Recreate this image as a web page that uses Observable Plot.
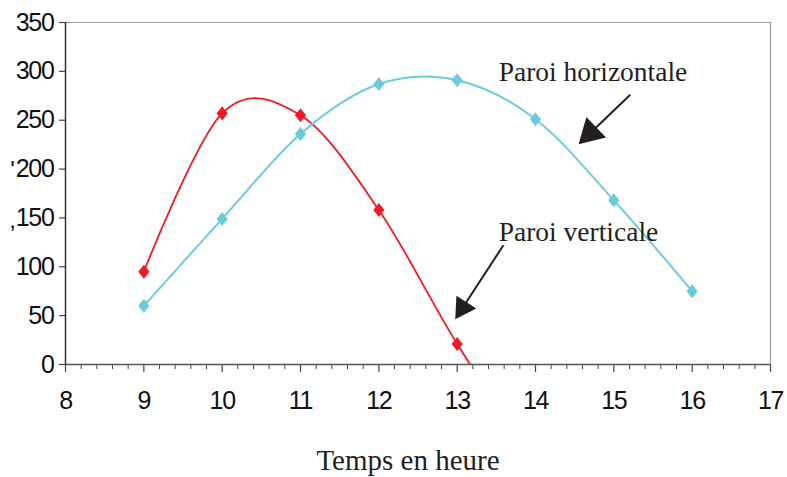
<!DOCTYPE html>
<html>
<head>
<meta charset="utf-8">
<script src="https://cdn.jsdelivr.net/npm/d3@7"></script>
<script src="https://cdn.jsdelivr.net/npm/@observablehq/plot@0.6"></script>
<style>
  body { margin: 0; background: #fff; }
  #chart svg { overflow: visible; }
</style>
</head>
<body>
<div id="chart"></div>
<script>
// Data
const hoursH = [9, 10, 11, 12, 13, 14, 15, 16];
const horizontale = [60, 149, 236, 287, 291, 251, 168, 75];
const hoursV = [9, 10, 11, 12, 13, 14];
const verticale = [95, 257, 255, 158, 21, -100];

const xTicks = [8, 9, 10, 11, 12, 13, 14, 15, 16, 17];
const yTicks = [0, 50, 100, 150, 200, 250, 300, 350];
const xMinor = d3.range(8, 17.0001, 0.2).filter(v => Math.abs(v - Math.round(v)) > 1e-6);

const labels = ["Paroi horizontale", "Paroi verticale"];
const labelX = [13.53, 13.53];
const labelY = [299.5, 135.7];

// arrows: start (x1,y1) -> head centre (x2,y2)
const arrowX1 = [15.21, 13.59];
const arrowY1 = [276, 122];
const arrowX2 = [14.70, 13.07];
const arrowY2 = [237, 58];
const arrowAngle = [226, 213];
const arrowR = [10.5, 8.8];

const xTitle = "Temps en heure";

const serH = hoursH.map((h, i) => ({x: h, y: horizontale[i]}));
const serV = hoursV.map((h, i) => ({x: h, y: verticale[i]}));
const ann = labels.map((t, i) => ({t, x: labelX[i], y: labelY[i]}));
const arr = arrowX1.map((_, i) => ({x1: arrowX1[i], y1: arrowY1[i], x2: arrowX2[i], y2: arrowY2[i], a: arrowAngle[i], r: arrowR[i]}));

const diamond = {
  draw(context, size) {
    const b = Math.sqrt(size / 1.6), a = 0.8 * b;
    context.moveTo(0, -b);
    context.lineTo(a, 0);
    context.lineTo(0, b);
    context.lineTo(-a, 0);
    context.closePath();
  }
};

const red = "#ED1C24";
const cyan = "#6CCBDB";
const ink = "#231F20";
const sans = "'Liberation Sans', Arial, sans-serif";
const serif = "'Liberation Serif', 'Times New Roman', serif";

const chart = Plot.plot({
  width: 787,
  height: 477,
  marginLeft: 65,
  marginRight: 17,
  marginTop: 22,
  marginBottom: 113,
  x: {domain: [8, 17]},
  y: {domain: [0, 350]},
  style: {fontFamily: sans, background: "#fff", color: "#000"},
  marks: [
    Plot.ruleY([350], {stroke: "#9a9a9a", strokeWidth: 1.2}),
    Plot.ruleX([17], {stroke: "#9a9a9a", strokeWidth: 1.2}),
    Plot.axisX(xMinor, {tickSize: 5, tickFormat: () => "", stroke: "#444", strokeWidth: 1}),
    Plot.axisX(xTicks, {tickSize: 8, tickPadding: 19, fontSize: 25, stroke: "#444", strokeWidth: 1.2, fill: "#111", label: null, tickFormat: d => String(d)}),
    Plot.axisY(yTicks, {tickSize: 6, tickPadding: 6, fontSize: 25, stroke: "#444", strokeWidth: 1.2, fill: "#111", label: null, tickFormat: d => String(d)}),
    Plot.ruleY([0], {stroke: "#555", strokeWidth: 1.5}),
    Plot.ruleX([8], {stroke: "#333", strokeWidth: 1.5}),
    Plot.line(serV, {x: "x", y: "y", curve: "cardinal", stroke: red, strokeWidth: 1.8, clip: true}),
    Plot.line(serH, {x: "x", y: "y", curve: "cardinal", stroke: cyan, strokeWidth: 2}),
    Plot.dot(serV.filter(d => d.y >= 0), {x: "x", y: "y", symbol: diamond, r: 5, fill: red, stroke: "none"}),
    Plot.dot(serH, {x: "x", y: "y", symbol: diamond, r: 5, fill: cyan, stroke: "none"}),
    Plot.link(arr, {x1: "x1", y1: "y1", x2: "x2", y2: "y2", stroke: ink, strokeWidth: 2}),
    Plot.dot(arr, {x: "x2", y: "y2", symbol: "triangle", r: "r", rotate: "a", fill: ink, stroke: "none"}),
    Plot.text(ann, {x: "x", y: "y", text: "t", textAnchor: "start", lineAnchor: "middle", fontSize: 27.5, fontFamily: serif, fill: ink}),
    Plot.text([xTitle], {frameAnchor: "bottom", dy: 96, dx: -10, lineAnchor: "middle", fontSize: 29, fontFamily: serif, fill: ink}),
    Plot.text(["'", ","], {x: 8, y: [199, 148], dx: -53, fontSize: 24, fill: "#111"})
  ],
  r: {type: "identity"}
});

chart.querySelectorAll('g[aria-label="x-axis tick label"] text, g[aria-label="y-axis tick label"] text').forEach(t => {
  t.style.letterSpacing = "-1.3px";
});
document.getElementById("chart").appendChild(chart);
</script>
</body>
</html>
